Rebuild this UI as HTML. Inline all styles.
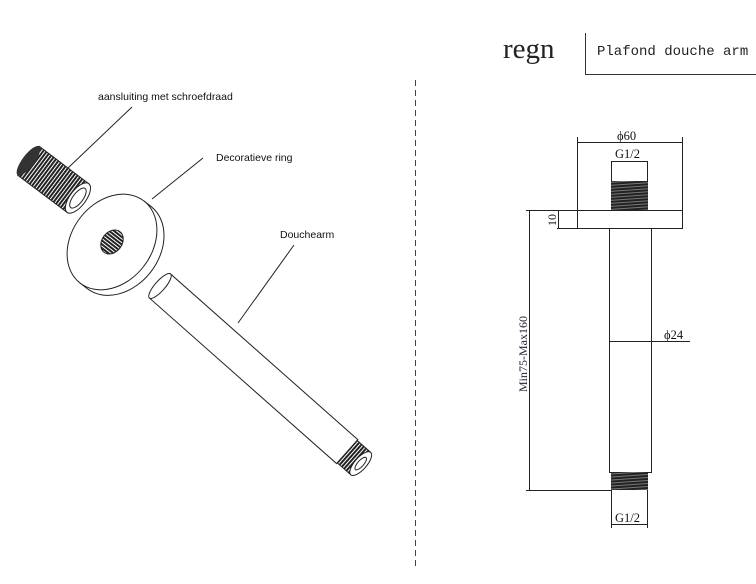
<!DOCTYPE html><html><head><style>body{margin:0;background:#fff}svg{display:block}</style></head><body>
<svg width="756" height="584" viewBox="0 0 756 584" xmlns="http://www.w3.org/2000/svg" font-family="Liberation Serif, serif">
<defs><pattern id="thr" width="3" height="3" patternUnits="userSpaceOnUse"><rect width="3" height="3" fill="#fff"/><rect width="2" height="3" fill="#222"/></pattern>
<pattern id="thh" width="4" height="3" patternUnits="userSpaceOnUse" patternTransform="rotate(-4)"><rect width="4" height="3" fill="#777"/><rect width="4" height="2" fill="#222"/></pattern></defs>
<text x="503" y="58" font-size="29" fill="#222">regn</text>
<path d="M585.5 33V74.5H756" fill="none" stroke="#333"/>
<text x="597" y="55" font-family="Liberation Mono, monospace" font-size="14" fill="#222">Plafond douche arm</text>
<line x1="415.5" y1="80" x2="415.5" y2="566" stroke="#444" stroke-dasharray="6,4"/>
<g font-family="Liberation Sans, sans-serif" font-size="10.5" fill="#111">
<text x="98" y="100">aansluiting met schroefdraad</text>
<text x="216" y="161">Decoratieve ring</text>
<text x="280" y="238">Douchearm</text></g>
<g stroke="#222" fill="none">
<line x1="132" y1="107" x2="68" y2="168"/>
<line x1="203" y1="158" x2="152" y2="199"/>
<line x1="294" y1="245" x2="238" y2="323"/>
</g>
<!-- fitting -->
<g transform="translate(54,180) rotate(37)">
<rect x="-32" y="-18" width="62" height="36" fill="url(#thr)" stroke="#222"/>
<ellipse cx="-32" cy="0" rx="6" ry="18" fill="#333"/>
<ellipse cx="30" cy="0" rx="8" ry="18" fill="#fff" stroke="#222"/>
<ellipse cx="30" cy="0" rx="5" ry="12" fill="#fff" stroke="#222"/>
</g>
<!-- ring -->
<g transform="translate(112,242) rotate(-52)">
<ellipse cx="0" cy="9" rx="52" ry="40" fill="#fff" stroke="#222"/>
<rect x="-52" y="0" width="104" height="9" fill="#fff"/>
<line x1="-52" y1="0" x2="-52" y2="9" stroke="#222"/>
<line x1="52" y1="0" x2="52" y2="9" stroke="#222"/>
<ellipse cx="0" cy="0" rx="52" ry="40" fill="#fff" stroke="#222"/>
<ellipse cx="0" cy="0" rx="13" ry="10" fill="url(#thr)" stroke="#222"/>
</g>
<!-- arm -->
<g transform="translate(160,286) rotate(41.5)">
<rect x="0" y="-16" width="250" height="32" fill="#fff" stroke="#222"/>
<ellipse cx="0" cy="0" rx="5" ry="16" fill="#fff" stroke="#222"/>
<rect x="250" y="-15" width="18" height="30" fill="url(#thr)" stroke="#222"/>
<ellipse cx="268" cy="0" rx="6" ry="15" fill="#fff" stroke="#222"/>
<ellipse cx="268" cy="0" rx="3" ry="8" fill="#fff" stroke="#222"/>
</g>
<!-- right drawing -->
<g stroke="#222" fill="none" stroke-width="1">
<rect x="577.5" y="210.5" width="105" height="18"/>
<rect x="609.5" y="228.5" width="42" height="244"/>
<rect x="611" y="181" width="37" height="29" fill="url(#thh)" stroke="none"/>
<rect x="611" y="472" width="37" height="18" fill="url(#thh)" stroke="none"/>
<line x1="611.5" y1="161" x2="611.5" y2="181"/><line x1="647.5" y1="161" x2="647.5" y2="181"/>
<line x1="611" y1="161.5" x2="648" y2="161.5"/>
<line x1="577.5" y1="137" x2="577.5" y2="210"/><line x1="682.5" y1="137" x2="682.5" y2="210"/>
<line x1="577" y1="142.5" x2="682" y2="142.5"/>
<line x1="611.5" y1="490" x2="611.5" y2="528"/><line x1="647.5" y1="490" x2="647.5" y2="528"/>
<line x1="611" y1="524.5" x2="648" y2="524.5"/>
<line x1="526" y1="210.5" x2="577" y2="210.5"/><line x1="526" y1="490.5" x2="611" y2="490.5"/>
<line x1="529.5" y1="210" x2="529.5" y2="490"/>
<line x1="557" y1="228.5" x2="577" y2="228.5"/><line x1="558.5" y1="210" x2="558.5" y2="228"/>
<line x1="609" y1="341.5" x2="690" y2="341.5"/>
</g>
<g font-size="12.5" fill="#111">
<text x="617" y="140">ϕ60</text>
<text x="615" y="158">G1/2</text>
<text x="615" y="522">G1/2</text>
<text x="664" y="339">ϕ24</text>
<text transform="translate(556,226) rotate(-90)" font-size="12">10</text>
<text transform="translate(527,392) rotate(-90)" font-size="12" fill="#223">Min75-Max160</text>
</g>
</svg></body></html>
